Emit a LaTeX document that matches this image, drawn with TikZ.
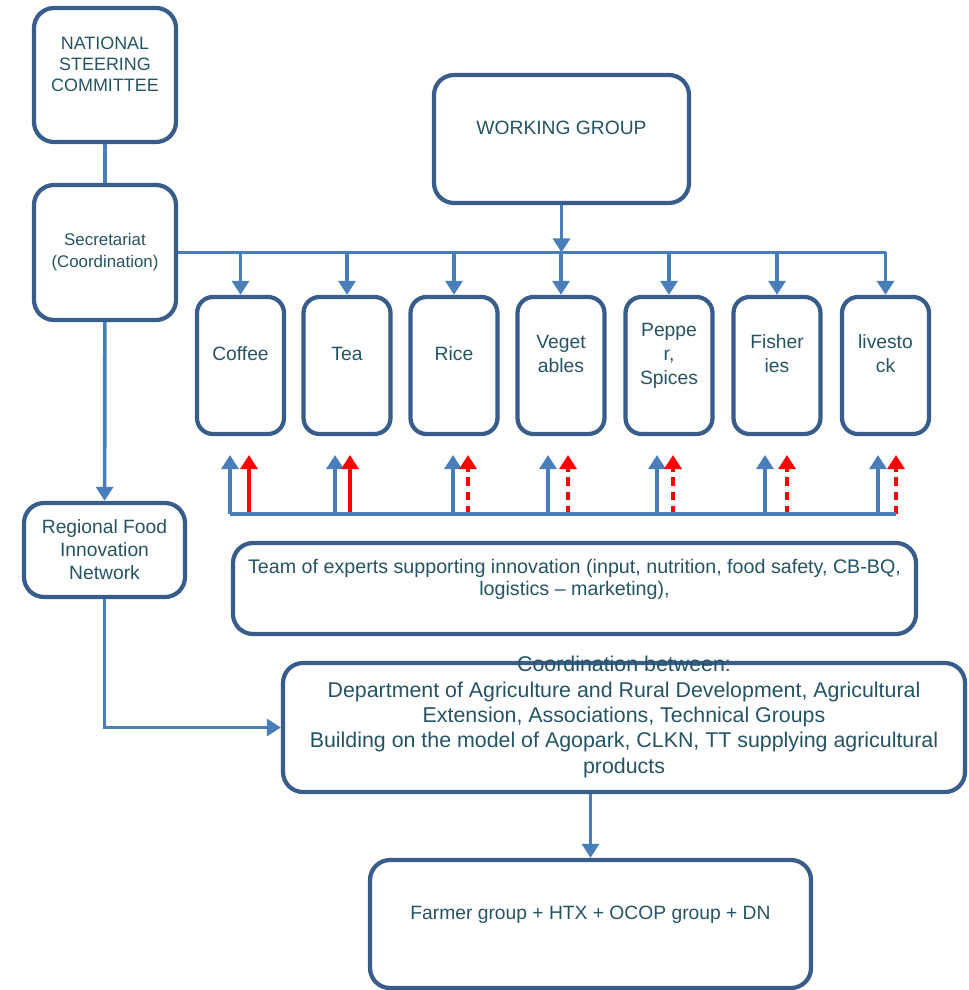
\documentclass[tikz,border=0pt]{standalone}
\usepackage{fontspec}
\setmainfont{Liberation Sans}
\usetikzlibrary{arrows.meta}
\usetikzlibrary{positioning}
\definecolor{boxline}{RGB}{56,93,138}
\definecolor{flowline}{RGB}{74,126,187}
\definecolor{boxtext}{RGB}{36,84,100}

\begin{document}
\begin{tikzpicture}[
  box/.style={draw=boxline,line width=3pt,rounded corners=0.5cm,align=center,text=boxtext,font=\fontsize{13.7}{15.5}\selectfont},
  flow/.style={draw=flowline,line width=2.6pt},
  flowarrow/.style={-{Triangle[width=12pt,length=10pt]}},
  redflow/.style={draw=red,line width=2.6pt},
  reddash/.style={dash pattern=on 6pt off 4pt}
]
\useasboundingbox (0,0) rectangle (24.2,-24.75);

\node[box,minimum width=3.55cm,minimum height=3.35cm,font=\fontsize{12.75}{15.2}\selectfont] (nsc) at (2.625,-1.875) {NATIONAL\\STEERING\\COMMITTEE\\~};
\node[box,minimum width=3.55cm,minimum height=3.375cm,font=\fontsize{12}{15.5}\selectfont] (sec) at (2.625,-6.3125) {Secretariat\\(Coordination)};
\node[box,minimum width=6.375cm,minimum height=3.2cm] (wg) at (14.0375,-3.475) {WORKING GROUP\\~};
\node[box,minimum width=4.025cm,minimum height=2.35cm,font=\fontsize{13.7}{16.3}\selectfont] (reg) at (2.6125,-13.75) {Regional Food\\Innovation\\Network};

% commodity boxes
\foreach \x/\txt [count=\i] in {6.0125/{Coffee\\~}, 8.675/{Tea\\~}, 11.35/{Rice\\~}, 14.025/{Veget\\ables\\~},
  16.725/{Peppe\\r,\\Spices\\~}, 19.425/{Fisher\\ies\\~}, 22.1375/{livesto\\ck\\~}}
  \node[box,rounded corners=0.4cm,minimum width=2.175cm,minimum height=3.425cm,font=\fontsize{13.7}{17}\selectfont] (cf\i) at (\x,-9.1375) {\txt};

\node[box,minimum width=17.075cm,minimum height=2.275cm,font=\fontsize{14}{15.6}\selectfont] (team) at (14.3625,-14.7125) {Team of experts supporting innovation (input, nutrition, food safety, CB-BQ,\\logistics -- marketing),\\~};
\node[box,minimum width=17.05cm,minimum height=3.225cm] (coord) at (15.6,-18.1875) {};
\node[align=center,text=boxtext,font=\fontsize{15.2}{18}\selectfont] (coordtxt) at (coord.center) {Coordination between:\\Department of Agriculture and Rural Development, Agricultural\\Extension, Associations, Technical Groups\\Building on the model of Agopark, CLKN, TT supplying agricultural\\products\\~};
\node[box,minimum width=11.025cm,minimum height=3.2cm] (farmer) at (14.7625,-23.1) {Farmer group + HTX + OCOP group + DN\\~};

% top links
\draw[flow] (nsc) -- (sec);
\draw[flow,flowarrow] (sec) -- (reg);
\draw[flow] (sec.east) -- (sec.east -| cf7.north);
\draw[flow,flowarrow] (wg.south) -- (wg.south |- sec.east);
\foreach \i in {1,...,7}
  \draw[flow,flowarrow] (sec.east -| cf\i.north) -- (cf\i.north);

% feedback arrows
\foreach \b/\r/\s [count=\i] in {5.75/6.225/solid, 8.375/8.75/solid, 11.325/11.7/reddash, 13.7/14.2/reddash,
  16.425/16.825/reddash, 19.125/19.675/reddash, 21.95/22.4/reddash}{
  \coordinate (bb\i) at (\b,-12.85);
  \coordinate (bt\i) at (\b,-11.375);
  \coordinate (rb\i) at (\r,-12.85);
  \coordinate (rt\i) at (\r,-11.375);
  \draw[flow,flowarrow] (bb\i) -- (bt\i);
  \draw[redflow,flowarrow,\s] (rb\i) -- (rt\i);
}
\draw[flow] (bb1) -- (bb1 -| rb7);

% lower links
\draw[flow,flowarrow] (reg.south) |- (coord.west);
\draw[flow,flowarrow] (coord.south -| farmer.north) -- (farmer.north);

\end{tikzpicture}
\end{document}
